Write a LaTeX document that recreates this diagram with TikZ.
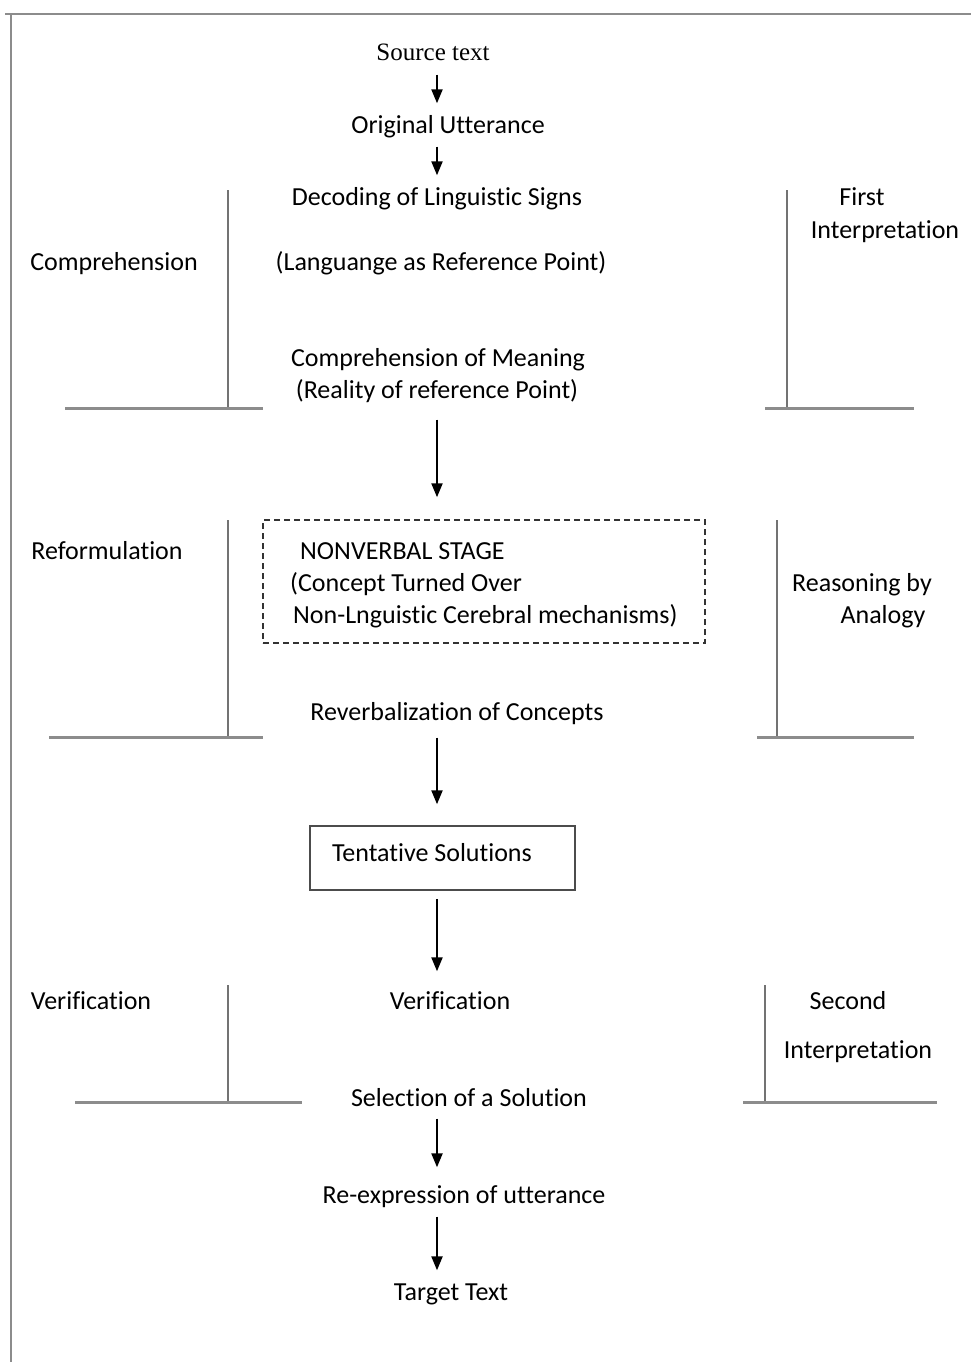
\documentclass[tikz,border=0pt]{standalone}
\usepackage{fontspec}
\setmainfont[Ligatures={NoCommon}]{Carlito}
\newfontfamily\srcfont{Liberation Serif}
\usetikzlibrary{arrows.meta}
\begin{document}
\begin{tikzpicture}[x=1pt,y=-1pt,
  txt/.style={inner sep=0pt,text height=18pt,text depth=5pt,yshift=-2pt,font=\fontsize{26}{30}\selectfont},
  txtl/.style={txt,anchor=west},
  arr/.style={line width=2.2pt,-{Triangle[length=14pt,width=11pt]}},
  vbar/.style={draw=black!55,line width=1.5pt},
  hbar/.style={draw=black!45,line width=3pt},
  frame/.style={draw=black!45,line width=2pt}]
\useasboundingbox (0,0) rectangle (971,1362);
% outer frame (top and left edges)
\draw[frame] (5,14) -- (971,14);
\draw[frame] (11,14) -- (11,1362);
\coordinate (ax) at (437,0);
% central column
\node[txt,font=\srcfont\fontsize{25}{30}\selectfont] (src) at (433,52) {Source text};
\node[txt] (orig) at (448,125) {Original Utterance};
\node[txt] (dec) at (437,197) {Decoding of Linguistic Signs};
\node[txt] (lang) at (441,262) {(Languange as Reference Point)};
\node[txt] (comp) at (438,358) {Comprehension of Meaning};
\node[txt] (real) at (437,390) {(Reality of reference Point)};
\node[draw=black!80,dashed,line width=1.5pt,dash pattern=on 6pt off 4pt,minimum width=442pt,minimum height=123pt,inner sep=0pt] (nvbox) at (484,581.5) {};
\node[txtl] (nv1) at (300,551) {NONVERBAL STAGE};
\node[txtl] (nv2) at (290,583) {(Concept Turned Over};
\node[txtl] (nv3) at (293,615) {Non-Lnguistic Cerebral mechanisms)};
\node[txt] (reverb) at (457,712) {Reverbalization of Concepts};
\node[draw=black!70,line width=1.5pt,minimum width=265pt,minimum height=64pt,inner sep=0pt] (tbox) at (442.5,858) {};
\node[txt] (tent) at (432,853) {Tentative Solutions};
\node[txt] (verif) at (450,1001) {Verification};
\node[txt] (sel) at (469,1098) {Selection of a Solution};
\node[txt] (reexp) at (464,1195) {Re-expression of utterance};
\node[txt] (target) at (451,1292) {Target Text};
% side labels
\node[txt] (lcomp) at (114,262) {Comprehension};
\node[txt] (first) at (862,197) {First};
\node[txt] (interp1) at (885,230) {Interpretation};
\node[txt] (lref) at (107,551) {Reformulation};
\node[txt] (reas) at (862,583) {Reasoning by};
\node[txt] (anal) at (883,615) {Analogy};
\node[txt] (lver) at (91,1001) {Verification};
\node[txt] (second) at (848,1001) {Second};
\node[txt] (interp2) at (858,1050) {Interpretation};
% brackets
\draw[vbar] (228,190) -- (228,408);
\draw[hbar] (65,408) -- (263,408);
\draw[vbar] (787,190) -- (787,408);
\draw[hbar] (765,408) -- (914,408);
\draw[vbar] (228,520) -- (228,737);
\draw[hbar] (49,737) -- (263,737);
\draw[vbar] (777,520) -- (777,737);
\draw[hbar] (757,737) -- (914,737);
\draw[vbar] (228,985) -- (228,1102);
\draw[hbar] (75,1102) -- (302,1102);
\draw[vbar] (765,985) -- (765,1102);
\draw[hbar] (743,1102) -- (937,1102);
% arrows
\draw[arr,shorten <=9pt,shorten >=12pt] (src.south -| ax) -- (orig.north -| ax);
\draw[arr,shorten <=8pt,shorten >=12pt] (orig.south -| ax) -- (dec.north -| ax);
\draw[arr,shorten <=16pt,shorten >=22pt] (real.south -| ax) -- (nvbox.north -| ax);
\draw[arr,shorten <=12pt,shorten >=21pt] (reverb.south -| ax) -- (tbox.north -| ax);
\draw[arr,shorten <=8pt,shorten >=20pt] (tbox.south -| ax) -- (verif.north -| ax);
\draw[arr,shorten <=7pt,shorten >=18pt] (sel.south -| ax) -- (reexp.north -| ax);
\draw[arr,shorten <=8pt,shorten >=12pt] (reexp.south -| ax) -- (target.north -| ax);
\end{tikzpicture}
\end{document}
